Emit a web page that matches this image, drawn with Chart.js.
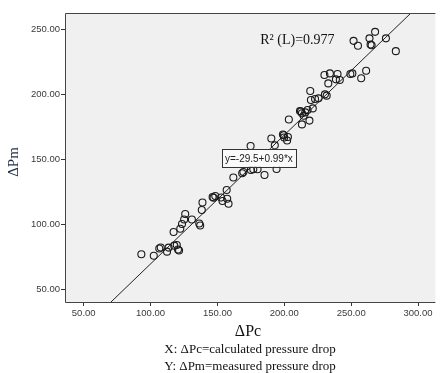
<!DOCTYPE html>
<html>
<head>
<meta charset="utf-8">
<script src="https://cdn.jsdelivr.net/npm/chart.js@4.4.1/dist/chart.umd.min.js"></script>
<style>
  html, body { margin: 0; padding: 0; background: #fff; }
  #wrap { width: 440px; height: 373px; position: relative; }
</style>
</head>
<body>
<div id="wrap"><canvas id="scatterCanvas"></canvas></div>
<script>
// measured points: calculated (x) vs measured (y) pressure drop
const calcDrop = [
    93.1, 102.4, 106.5, 107.6, 112.3, 113.5, 117.7, 119.6, 120.5, 121.3,
    117.2, 122.2, 123.5, 125.1, 125.9, 130.9, 136.4, 137.1, 138.3, 138.8,
    146.4, 147.1, 148.4, 152.7, 153.8, 157.3, 158.3, 156.9, 161.9, 168.5,
    169.4, 174.8, 175.0, 176.8, 180.0, 185.2, 190.3, 192.9, 194.2, 199.0,
    199.6, 199.9, 202.1, 202.7, 203.4, 211.7, 212.5, 213.2, 215.7, 217.4,
    221.3, 214.5, 218.8, 213.2, 219.4, 219.9, 223.0, 225.6, 230.4, 231.7,
    230.0, 234.1, 239.8, 238.6, 241.5, 232.9, 249.4, 250.9, 257.5, 261.2,
    251.8, 255.1, 263.7, 264.5, 265.3, 267.9, 276.0, 283.4
];
const measDrop = [
    76.9, 75.8, 81.3, 82.1, 78.9, 82.0, 83.5, 84.0, 80.6, 79.8,
    94.0, 96.5, 100.2, 103.6, 107.8, 103.6, 100.5, 99.0, 110.9, 116.7,
    120.9, 120.3, 121.7, 120.5, 117.8, 119.5, 115.7, 126.3, 135.9, 139.1,
    140.1, 160.1, 141.6, 142.2, 142.2, 137.8, 165.8, 160.6, 142.4, 168.9,
    168.4, 166.6, 164.3, 167.0, 180.4, 186.9, 186.6, 185.2, 185.9, 187.7,
    189.0, 183.3, 179.6, 176.7, 202.3, 195.4, 196.2, 196.7, 199.8, 198.8,
    214.6, 215.9, 215.4, 211.3, 210.8, 208.2, 215.4, 215.9, 212.1, 217.9,
    240.9, 237.1, 242.8, 238.0, 237.5, 247.8, 242.8, 233.0
];

// fit line as printed on the chart
const fitIntercept = -29.5;
const fitSlope = 0.99;
const fitLabel = "y=-29.5+0.99*x";
const r2Label = "R\u00B2 (L)=0.977";

const xTicks = [50, 100, 150, 200, 250, 300];
const yTicks = [50, 100, 150, 200, 250];

const xTitle = "\u0394Pc";
const yTitle = "\u0394Pm";
const captions = ["X: \u0394Pc=calculated pressure drop", "Y: \u0394Pm=measured pressure drop"];

const points = calcDrop.map((x, i) => ({x: x, y: measDrop[i]}));
const fitEnds = [60, 320].map(x => ({x: x, y: fitIntercept + fitSlope * x}));

const serif = '"Liberation Serif", "Times New Roman", serif';
const sans = '"Liberation Sans", Arial, sans-serif';

const framePlugin = {
    id: "frame",
    beforeDatasetsDraw(chart) {
        const a = chart.chartArea, ctx = chart.ctx;
        ctx.save();
        ctx.fillStyle = "#f0f0f0";
        ctx.fillRect(a.left, a.top, a.right - a.left, a.bottom - a.top);
        ctx.restore();
    },
    afterDraw(chart) {
        const a = chart.chartArea, ctx = chart.ctx;
        const xs = chart.scales.x, ys = chart.scales.y;
        ctx.save();
        ctx.strokeStyle = "#444";
        ctx.lineWidth = 1;
        ctx.beginPath();
        ctx.moveTo(a.right, a.top + 0.5);
        ctx.lineTo(a.left + 0.5, a.top + 0.5);
        ctx.lineTo(a.left + 0.5, a.bottom + 0.5);
        ctx.lineTo(a.right, a.bottom + 0.5);
        ctx.stroke();

        // equation box
        ctx.font = "10px " + sans;
        ctx.textAlign = "center";
        ctx.textBaseline = "middle";
        const bx = xs.getPixelForValue(181), by = ys.getPixelForValue(151);
        const w = ctx.measureText(fitLabel).width + 6;
        ctx.fillStyle = "#fafafa";
        ctx.fillRect(bx - w / 2, by - 9, w, 18);
        ctx.strokeStyle = "#333";
        ctx.strokeRect(Math.round(bx - w / 2) + 0.5, Math.round(by - 9) + 0.5, Math.round(w), 18);
        ctx.fillStyle = "#222";
        ctx.fillText(fitLabel, bx, by + 1);

        // R squared
        ctx.font = "14px " + serif;
        ctx.textAlign = "left";
        ctx.textBaseline = "alphabetic";
        ctx.fillStyle = "#111";
        ctx.fillText(r2Label, xs.getPixelForValue(182), ys.getPixelForValue(238.4));

        // axis titles and captions
        ctx.textAlign = "center";
        ctx.font = "16px " + serif;
        ctx.fillText(xTitle, 248, 336);
        ctx.font = "13px " + serif;
        ctx.fillText(captions[0], 250, 353);
        ctx.fillText(captions[1], 250, 370);

        ctx.translate(18, 162);
        ctx.rotate(-Math.PI / 2);
        ctx.font = "15px " + serif;
        ctx.fillStyle = "#1f2a44";
        ctx.fillText(yTitle, 0, 0);
        ctx.restore();
    }
};

new Chart(document.getElementById("scatterCanvas"), {
    type: "scatter",
    data: {
        datasets: [
            {
                data: points,
                pointRadius: 3.5,
                pointHoverRadius: 3.5,
                pointBorderWidth: 1.1,
                pointBorderColor: "#1a1a1a",
                pointBackgroundColor: "rgba(0,0,0,0)"
            },
            {
                type: "line",
                data: fitEnds,
                borderColor: "#222",
                borderWidth: 1,
                pointRadius: 0,
                fill: false
            }
        ]
    },
    options: {
        responsive: true,
        maintainAspectRatio: false,
        animation: false,
        events: [],
        layout: {padding: {top: 13, right: 0, left: 0, bottom: 0}},
        plugins: {legend: {display: false}, tooltip: {enabled: false}},
        scales: {
            x: {
                type: "linear",
                min: 36,
                max: 313,
                afterBuildTicks: (scale) => { scale.ticks = xTicks.map(v => ({value: v})); },
                afterFit: (scale) => { scale.height = 71; },
                border: {display: false},
                grid: {drawOnChartArea: false, tickLength: 4, color: "#333"},
                ticks: {
                    padding: 2,
                    color: "#3a3a3a",
                    font: {family: sans, size: 9.5},
                    callback: (v) => Number(v).toFixed(2),
                    maxRotation: 0
                }
            },
            y: {
                type: "linear",
                min: 40.2,
                max: 262.3,
                afterBuildTicks: (scale) => { scale.ticks = yTicks.map(v => ({value: v})); },
                afterFit: (scale) => { scale.width = 65; },
                border: {display: false},
                grid: {drawOnChartArea: false, tickLength: 4, color: "#333"},
                ticks: {
                    padding: 1,
                    color: "#3a3a3a",
                    font: {family: sans, size: 9.5},
                    callback: (v) => Number(v).toFixed(2)
                }
            }
        }
    },
    plugins: [framePlugin]
});
</script>
</body>
</html>
